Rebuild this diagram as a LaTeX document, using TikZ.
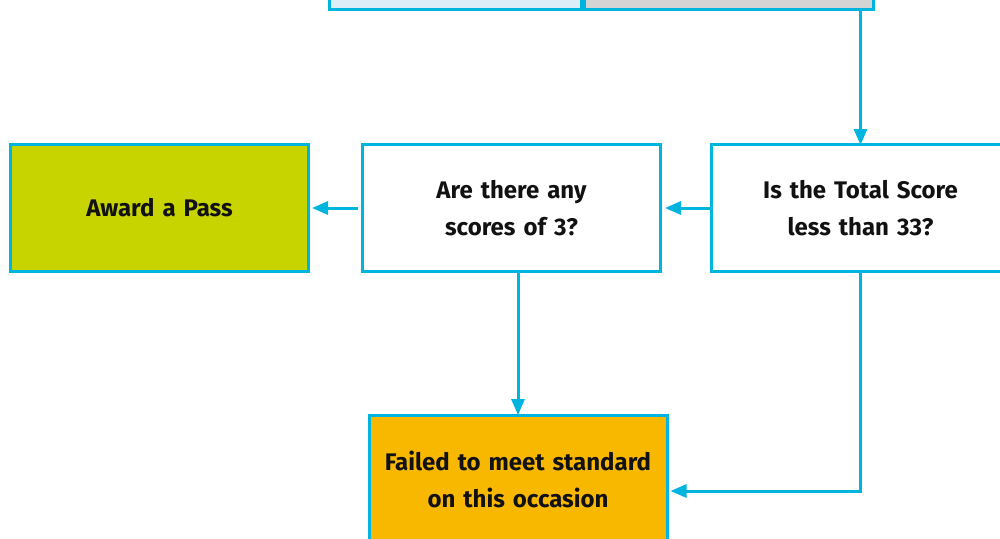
\documentclass[tikz,border=0pt]{standalone}
\usepackage{fontspec}
\setmainfont{Fira Sans}
\usetikzlibrary{arrows.meta}
\definecolor{flowcyan}{HTML}{00B4E0}
\definecolor{passgreen}{HTML}{C8D400}
\definecolor{failorange}{HTML}{F9B800}
\definecolor{topblue}{HTML}{DCEFF9}
\definecolor{topgrey}{HTML}{D4D4D4}
\definecolor{boxtext}{HTML}{111111}

\tikzstyle{box} = [draw=flowcyan, line width=3pt, minimum width=298pt, minimum height=127pt, inner sep=0pt, text width=290pt, text centered, text=boxtext, font=\bfseries\fontsize{24}{37}\selectfont]
\tikzstyle{topbox} = [draw=flowcyan, line width=3pt, minimum height=77pt, inner sep=0pt]
\tikzstyle{flow} = [draw=flowcyan, line width=3pt, -{Triangle[length=16pt,width=13pt]}]

\begin{document}
\begin{tikzpicture}[x=1pt,y=-1pt]
\useasboundingbox (0,0) rectangle (1000,538);
\node[topbox, fill=topblue, minimum width=252pt] (topL) at (455.5,-29) {};
\node[topbox, fill=topgrey, minimum width=289pt] (topR) at (729,-29) {};
\node[box, fill=passgreen] (pass) at (159.5,208) {Award a Pass};
\node[box, fill=white] (threes) at (511.5,208) {Are there any\\scores of 3?};
\node[box, fill=white] (total) at (860.5,208) {Is the Total Score\\less than 33?};
\node[box, fill=failorange] (fail) at (518,479) {Failed to meet standard\\on this occasion};
\draw[flow] (topR.south -| total.north) -- ([yshift=-2pt]total.north);
\draw[flow] (total.west) -- ([xshift=3pt]threes.east);
\draw[flow] ([xshift=-3pt]threes.west) -- ([xshift=2pt]pass.east);
\draw[flow] (threes.south -| fail.north) -- ([yshift=-1pt]fail.north);
\draw[flow] (total.south) |- ([xshift=2pt,yshift=-12pt]fail.east);
\end{tikzpicture}
\end{document}
